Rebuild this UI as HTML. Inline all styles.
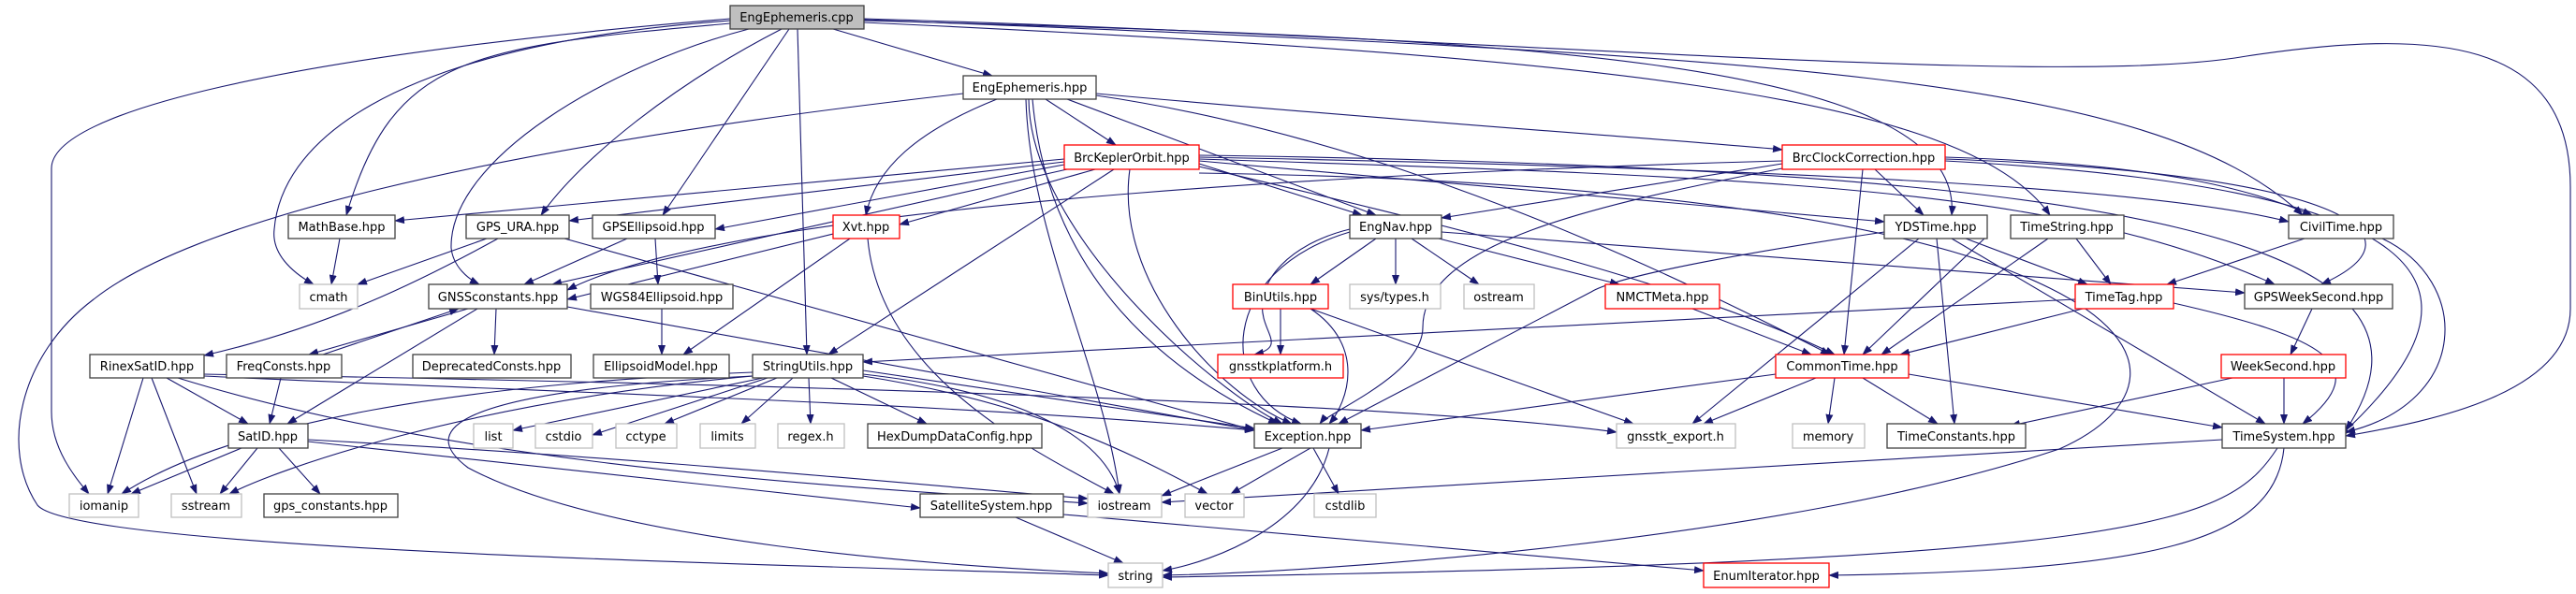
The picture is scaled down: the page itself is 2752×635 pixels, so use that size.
<!DOCTYPE html>
<html><head><meta charset="utf-8"><style>
html,body{margin:0;padding:0;background:#fff;}
svg{display:block;}
text{font-family:"DejaVu Sans","Liberation Sans",sans-serif;font-size:13px;fill:#000;text-anchor:middle;}
.e{fill:none;stroke:#191970;stroke-width:1.1;marker-end:url(#a);}
.n{fill:#fff;stroke:#404040;stroke-width:1.3;}
.r{fill:#fff;stroke:#ff0000;stroke-width:1.3;}
.g{fill:#fff;stroke:#bfbfbf;stroke-width:1.3;}
</style></head><body>
<svg width="2752" height="635" viewBox="0 0 2752 635" xmlns="http://www.w3.org/2000/svg">
<defs><marker id="a" markerUnits="userSpaceOnUse" markerWidth="11" markerHeight="8" refX="10" refY="4" orient="auto"><path d="M0,0 L11,4 L0,8 z" fill="#191970"/></marker></defs>
<g>
<!-- cpp edges -->
<path class="e" d="M890,31 L1060,81"/>
<path class="e" d="M852,31 L862,379"/>
<path class="e" d="M843,31 L708,230"/>
<path class="e" d="M835,31 C720,90 620,170 578,230"/>
<path class="e" d="M800,31 C650,70 480,170 482,265 C484,285 500,298 512,304"/>
<path class="e" d="M780,25 C500,50 420,60 370,230"/>
<path class="e" d="M780,22 C400,50 300,160 293,245 C290,270 310,290 335,304"/>
<path class="e" d="M780,20 C300,60 55,120 55,180 L55,440 C55,480 80,510 95,528"/>
<path class="e" d="M923,22 C1600,40 2100,60 2085,230"/>
<path class="e" d="M923,24 C1700,60 2100,100 2190,230"/>
<path class="e" d="M923,21 C1900,60 2300,80 2460,230"/>
<path class="e" d="M923,20 C1600,40 2200,95 2400,60 C2600,30 2746,40 2746,200 L2746,330 C2746,420 2600,450 2506,466"/>
<!-- ehpp -->
<path class="e" d="M1117,106 L1192,155"/>
<path class="e" d="M1065,106 C980,140 935,180 925,230"/>
<path class="e" d="M1099,106 C1100,250 1300,420 1370,453"/>
<path class="e" d="M1096,106 C1100,250 1180,400 1196,528"/>
<path class="e" d="M1103,106 C1120,300 1250,400 1365,453"/>
<path class="e" d="M1029,100 C500,160 200,240 100,320 C20,380 0,480 40,540 C80,590 900,605 1184,615"/>
<path class="e" d="M1171,100 C1500,130 1800,150 1904,160"/>
<path class="e" d="M1140,106 L1470,230"/>
<path class="e" d="M1171,102 C1500,150 1800,300 1955,379"/>
<!-- bko -->
<path class="e" d="M1137,170 L422,236"/>
<path class="e" d="M1137,173 L608,236"/>
<path class="e" d="M1137,176 L764,245"/>
<path class="e" d="M1140,181 L590,304"/>
<path class="e" d="M1170,181 L961,240"/>
<path class="e" d="M1190,181 L885,379"/>
<path class="e" d="M1207,181 C1190,300 1300,420 1380,453"/>
<path class="e" d="M1281,175 L1455,230"/>
<path class="e" d="M1281,178 C1500,230 1800,300 1960,379"/>
<path class="e" d="M1281,172 L2013,237"/>
<path class="e" d="M1281,168 C1900,180 2300,200 2445,237"/>
<path class="e" d="M1281,170 C1900,190 2200,200 2430,304"/>
<path class="e" d="M1281,166 C2300,180 2640,260 2506,460"/>
<path class="e" d="M1281,185 C2300,200 2380,400 2200,480 C1900,580 1400,612 1242,615"/>
<!-- bcc -->
<path class="e" d="M1904,175 L1540,233"/>
<path class="e" d="M2003,181 L2055,230"/>
<path class="e" d="M1990,181 L1970,379"/>
<path class="e" d="M1904,180 C1700,220 1520,260 1520,350 C1520,400 1420,440 1410,453"/>
<path class="e" d="M1904,172 C1600,180 800,210 606,310"/>
<path class="e" d="M2078,168 C2300,175 2400,200 2470,230"/>
<path class="e" d="M2078,170 C2500,185 2600,250 2480,304"/>
<path class="e" d="M2078,172 C2600,200 2680,300 2500,466"/>
<!-- row3 -->
<path class="e" d="M363,255 L354,304"/>
<path class="e" d="M520,255 L382,304"/>
<path class="e" d="M532,255 C450,300 350,350 218,380"/>
<path class="e" d="M603,255 L1340,460"/>
<path class="e" d="M670,255 L560,304"/>
<path class="e" d="M700,255 L703,304"/>
<path class="e" d="M890,250 L606,320"/>
<path class="e" d="M908,255 L730,379"/>
<path class="e" d="M927,255 C940,400 1100,480 1190,528"/>
<path class="e" d="M1470,255 L1400,304"/>
<path class="e" d="M1491,255 L1491,304"/>
<path class="e" d="M1508,255 L1580,304"/>
<path class="e" d="M1537,255 L1730,304"/>
<path class="e" d="M1540,248 L2398,313"/>
<path class="e" d="M1442,245 C1380,260 1340,300 1350,340 C1355,360 1370,372 1340,379"/>
<path class="e" d="M1442,248 C1300,290 1300,420 1390,453"/>
<path class="e" d="M2013,248 C1800,280 1720,300 1700,312 L1430,453"/>
<path class="e" d="M2050,255 L1808,453"/>
<path class="e" d="M2069,255 L2088,453"/>
<path class="e" d="M2100,255 L2230,304"/>
<path class="e" d="M2085,255 L2420,453"/>
<path class="e" d="M2120,255 L1990,379"/>
<path class="e" d="M2218,255 L2255,304"/>
<path class="e" d="M2188,255 L2010,379"/>
<path class="e" d="M2462,255 L2315,304"/>
<path class="e" d="M2545,255 C2640,300 2640,430 2506,462"/>
<!-- row4 -->
<path class="e" d="M500,330 L330,379"/>
<path class="e" d="M345,379 L490,330"/>
<path class="e" d="M530,330 L528,379"/>
<path class="e" d="M510,330 L307,453"/>
<path class="e" d="M606,328 L1340,460"/>
<path class="e" d="M707,330 L707,379"/>
<path class="e" d="M2217,320 L922,387"/>
<path class="e" d="M2225,330 L2030,379"/>
<path class="e" d="M2322,324 C2480,360 2540,390 2460,453"/>
<path class="e" d="M1808,330 L1935,379"/>
<path class="e" d="M2470,330 L2447,379"/>
<path class="e" d="M1368,330 L1368,379"/>
<path class="e" d="M1400,330 L1745,453"/>
<path class="e" d="M1400,330 C1460,370 1440,430 1420,453"/>
<!-- row5 -->
<path class="e" d="M2440,404 L2440,453"/>
<path class="e" d="M2385,404 L2148,455"/>
<path class="e" d="M153,404 L115,528"/>
<path class="e" d="M162,404 L210,528"/>
<path class="e" d="M178,404 L265,453"/>
<path class="e" d="M190,404 C500,500 900,520 1162,538"/>
<path class="e" d="M218,402 C600,420 1000,430 1340,460"/>
<path class="e" d="M218,400 C800,410 1500,430 1727,462"/>
<path class="e" d="M300,404 L288,453"/>
<path class="e" d="M815,404 L548,460"/>
<path class="e" d="M820,404 L633,465"/>
<path class="e" d="M830,404 L710,453"/>
<path class="e" d="M847,404 L792,453"/>
<path class="e" d="M864,404 L866,453"/>
<path class="e" d="M888,404 L990,453"/>
<path class="e" d="M922,396 L1340,458"/>
<path class="e" d="M922,400 C1100,420 1180,470 1196,528"/>
<path class="e" d="M922,402 C1100,430 1200,480 1290,528"/>
<path class="e" d="M804,402 C440,420 460,470 500,500 C650,580 1000,605 1184,613"/>
<path class="e" d="M804,398 C500,410 250,450 130,528"/>
<path class="e" d="M804,402 C500,430 300,500 245,528"/>
<path class="e" d="M1897,400 L1454,460"/>
<path class="e" d="M1940,404 L1820,453"/>
<path class="e" d="M1960,404 L1953,453"/>
<path class="e" d="M1990,404 L2070,453"/>
<path class="e" d="M2039,400 L2374,457"/>
<!-- row6 -->
<path class="e" d="M258,479 L140,528"/>
<path class="e" d="M275,479 L235,528"/>
<path class="e" d="M298,479 L342,528"/>
<path class="e" d="M329,470 C700,490 1000,520 1162,533"/>
<path class="e" d="M329,472 L983,543"/>
<path class="e" d="M1370,479 L1241,530"/>
<path class="e" d="M1400,479 L1315,528"/>
<path class="e" d="M1403,479 L1430,528"/>
<path class="e" d="M1420,479 C1400,560 1300,600 1242,610"/>
<path class="e" d="M2374,470 L1241,537"/>
<path class="e" d="M2433,479 C2380,560 2300,600 1242,617"/>
<path class="e" d="M2440,479 C2430,580 2300,610 1954,615"/>
<path class="e" d="M1085,553 L1200,602"/>
<path class="e" d="M1136,550 L1820,610"/>
</g>
<g>
<rect x="780" y="6" width="143" height="25" fill="#bfbfbf" stroke="#404040" stroke-width="1.3"/><text x="851" y="23">EngEphemeris.cpp</text>
<rect class="n" x="1029" y="81" width="142" height="25"/><text x="1100" y="98">EngEphemeris.hpp</text>
<rect class="r" x="1137" y="155" width="144" height="26"/><text x="1209" y="173">BrcKeplerOrbit.hpp</text>
<rect class="r" x="1904" y="155" width="174" height="26"/><text x="1991" y="173">BrcClockCorrection.hpp</text>

<rect class="n" x="308" y="230" width="114" height="25"/><text x="365" y="247">MathBase.hpp</text>
<rect class="n" x="498" y="230" width="110" height="25"/><text x="553" y="247">GPS_URA.hpp</text>
<rect class="n" x="633" y="230" width="131" height="25"/><text x="698" y="247">GPSEllipsoid.hpp</text>
<rect class="r" x="890" y="230" width="71" height="25"/><text x="925" y="247">Xvt.hpp</text>
<rect class="n" x="1442" y="230" width="98" height="25"/><text x="1491" y="247">EngNav.hpp</text>
<rect class="n" x="2013" y="230" width="110" height="25"/><text x="2068" y="247">YDSTime.hpp</text>
<rect class="n" x="2148" y="230" width="121" height="25"/><text x="2208" y="247">TimeString.hpp</text>
<rect class="n" x="2445" y="230" width="112" height="25"/><text x="2501" y="247">CivilTime.hpp</text>

<rect class="g" x="320" y="304" width="62" height="26"/><text x="351" y="322">cmath</text>
<rect class="n" x="458" y="304" width="148" height="26"/><text x="532" y="322">GNSSconstants.hpp</text>
<rect class="n" x="631" y="304" width="152" height="26"/><text x="707" y="322">WGS84Ellipsoid.hpp</text>
<rect class="r" x="1317" y="304" width="102" height="26"/><text x="1368" y="322">BinUtils.hpp</text>
<rect class="g" x="1442" y="304" width="97" height="26"/><text x="1490" y="322">sys/types.h</text>
<rect class="g" x="1564" y="304" width="75" height="26"/><text x="1601" y="322">ostream</text>
<rect class="r" x="1715" y="304" width="122" height="26"/><text x="1776" y="322">NMCTMeta.hpp</text>
<rect class="r" x="2217" y="304" width="105" height="26"/><text x="2269" y="322">TimeTag.hpp</text>
<rect class="n" x="2398" y="304" width="158" height="26"/><text x="2477" y="322">GPSWeekSecond.hpp</text>

<rect class="n" x="96" y="379" width="122" height="25"/><text x="157" y="396">RinexSatID.hpp</text>
<rect class="n" x="242" y="379" width="123" height="25"/><text x="303" y="396">FreqConsts.hpp</text>
<rect class="n" x="441" y="379" width="169" height="25"/><text x="525" y="396">DeprecatedConsts.hpp</text>
<rect class="n" x="634" y="379" width="145" height="25"/><text x="706" y="396">EllipsoidModel.hpp</text>
<rect class="n" x="804" y="379" width="118" height="25"/><text x="863" y="396">StringUtils.hpp</text>
<rect class="r" x="1301" y="379" width="134" height="25"/><text x="1368" y="396">gnsstkplatform.h</text>
<rect class="r" x="1897" y="379" width="142" height="25"/><text x="1968" y="396">CommonTime.hpp</text>
<rect class="r" x="2373" y="379" width="133" height="25"/><text x="2439" y="396">WeekSecond.hpp</text>

<rect class="n" x="244" y="453" width="85" height="26"/><text x="286" y="471">SatID.hpp</text>
<rect class="g" x="506" y="453" width="42" height="26"/><text x="527" y="471">list</text>
<rect class="g" x="572" y="453" width="61" height="26"/><text x="602" y="471">cstdio</text>
<rect class="g" x="658" y="453" width="65" height="26"/><text x="690" y="471">cctype</text>
<rect class="g" x="748" y="453" width="59" height="26"/><text x="777" y="471">limits</text>
<rect class="g" x="831" y="453" width="71" height="26"/><text x="866" y="471">regex.h</text>
<rect class="n" x="927" y="453" width="186" height="26"/><text x="1020" y="471">HexDumpDataConfig.hpp</text>
<rect class="n" x="1340" y="453" width="114" height="26"/><text x="1397" y="471">Exception.hpp</text>
<rect class="g" x="1727" y="453" width="127" height="26"/><text x="1790" y="471">gnsstk_export.h</text>
<rect class="g" x="1915" y="453" width="77" height="26"/><text x="1953" y="471">memory</text>
<rect class="n" x="2016" y="453" width="148" height="26"/><text x="2090" y="471">TimeConstants.hpp</text>
<rect class="n" x="2374" y="453" width="132" height="26"/><text x="2440" y="471">TimeSystem.hpp</text>

<rect class="g" x="74" y="528" width="74" height="25"/><text x="111" y="545">iomanip</text>
<rect class="g" x="183" y="528" width="75" height="25"/><text x="220" y="545">sstream</text>
<rect class="n" x="282" y="528" width="143" height="25"/><text x="353" y="545">gps_constants.hpp</text>
<rect class="n" x="983" y="528" width="153" height="25"/><text x="1059" y="545">SatelliteSystem.hpp</text>
<rect class="g" x="1162" y="528" width="79" height="25"/><text x="1201" y="545">iostream</text>
<rect class="g" x="1266" y="528" width="63" height="25"/><text x="1297" y="545">vector</text>
<rect class="g" x="1404" y="528" width="66" height="25"/><text x="1437" y="545">cstdlib</text>

<rect class="g" x="1184" y="602" width="58" height="26"/><text x="1213" y="620">string</text>
<rect class="r" x="1820" y="602" width="134" height="26"/><text x="1887" y="620">EnumIterator.hpp</text>
</g>
</svg>
</body></html>
